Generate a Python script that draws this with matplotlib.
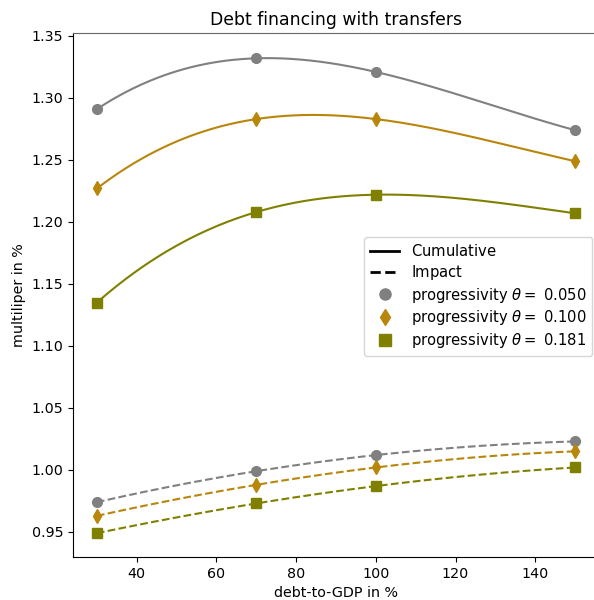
import numpy as np
import matplotlib
matplotlib.use("Agg")
import matplotlib.pyplot as plt
from matplotlib.lines import Line2D

debt = [30, 70, 100, 150]
thetas = ["0.050", "0.100", "0.181"]
colors = ["grey", "darkgoldenrod", "olive"]
markers = ["o", "d", "s"]

cumulative = [
    [1.291, 1.332, 1.321, 1.274],
    [1.227, 1.283, 1.283, 1.249],
    [1.135, 1.208, 1.222, 1.207],
]
impact = [
    [0.974, 0.999, 1.012, 1.023],
    [0.963, 0.988, 1.002, 1.015],
    [0.949, 0.973, 0.987, 1.002],
]

plt.rcParams["font.size"] = 10.3

fig = plt.figure(figsize=(5.94, 6.0), dpi=100)
ax = fig.add_axes([73 / 594, 43 / 600, 526 / 594, 524 / 600])

xs = np.linspace(debt[0], debt[-1], 200)
for cum, imp, c, m in zip(cumulative, impact, colors, markers):
    # smooth cubic through the four observed points
    for vals, ls in ((cum, "-"), (imp, "--")):
        coef = np.polyfit(debt, vals, 3)
        ax.plot(xs, np.polyval(coef, xs), color=c, ls=ls, lw=1.5)
        ax.plot(debt, vals, color=c, marker=m, ls="none", ms=7)

ax.set_xlim(24, 156)
ax.set_ylim(0.9298, 1.3524)
ax.set_yticks([0.95, 1.00, 1.05, 1.10, 1.15, 1.20, 1.25, 1.30, 1.35])
ax.set_xlabel("debt-to-GDP in %")
ax.set_ylabel("multiliper in %")
ax.set_title("Debt financing with transfers", fontsize=12.4)
ax.spines["right"].set_visible(False)
ax.spines["top"].set_color("#666666")

handles = [
    Line2D([], [], color="black", ls="-", lw=2),
    Line2D([], [], color="black", ls="--", lw=2),
]
# trailing thin space keeps every row at the same (mathtext) height
labels = [r"Cumulative$\,$", r"Impact$\,$"]
for th, c, m in zip(thetas, colors, markers):
    handles.append(Line2D([], [], color=c, marker=m, ls="none", ms=8))
    labels.append(r"progressivity $\theta =$ " + th)
ax.legend(handles, labels, loc="upper left", borderaxespad=0,
          bbox_to_anchor=((364 - 73) / 526, (557 - 237) / 524),
          fontsize=10.6, labelspacing=0.26)

fig.savefig("out.png", dpi=100)
